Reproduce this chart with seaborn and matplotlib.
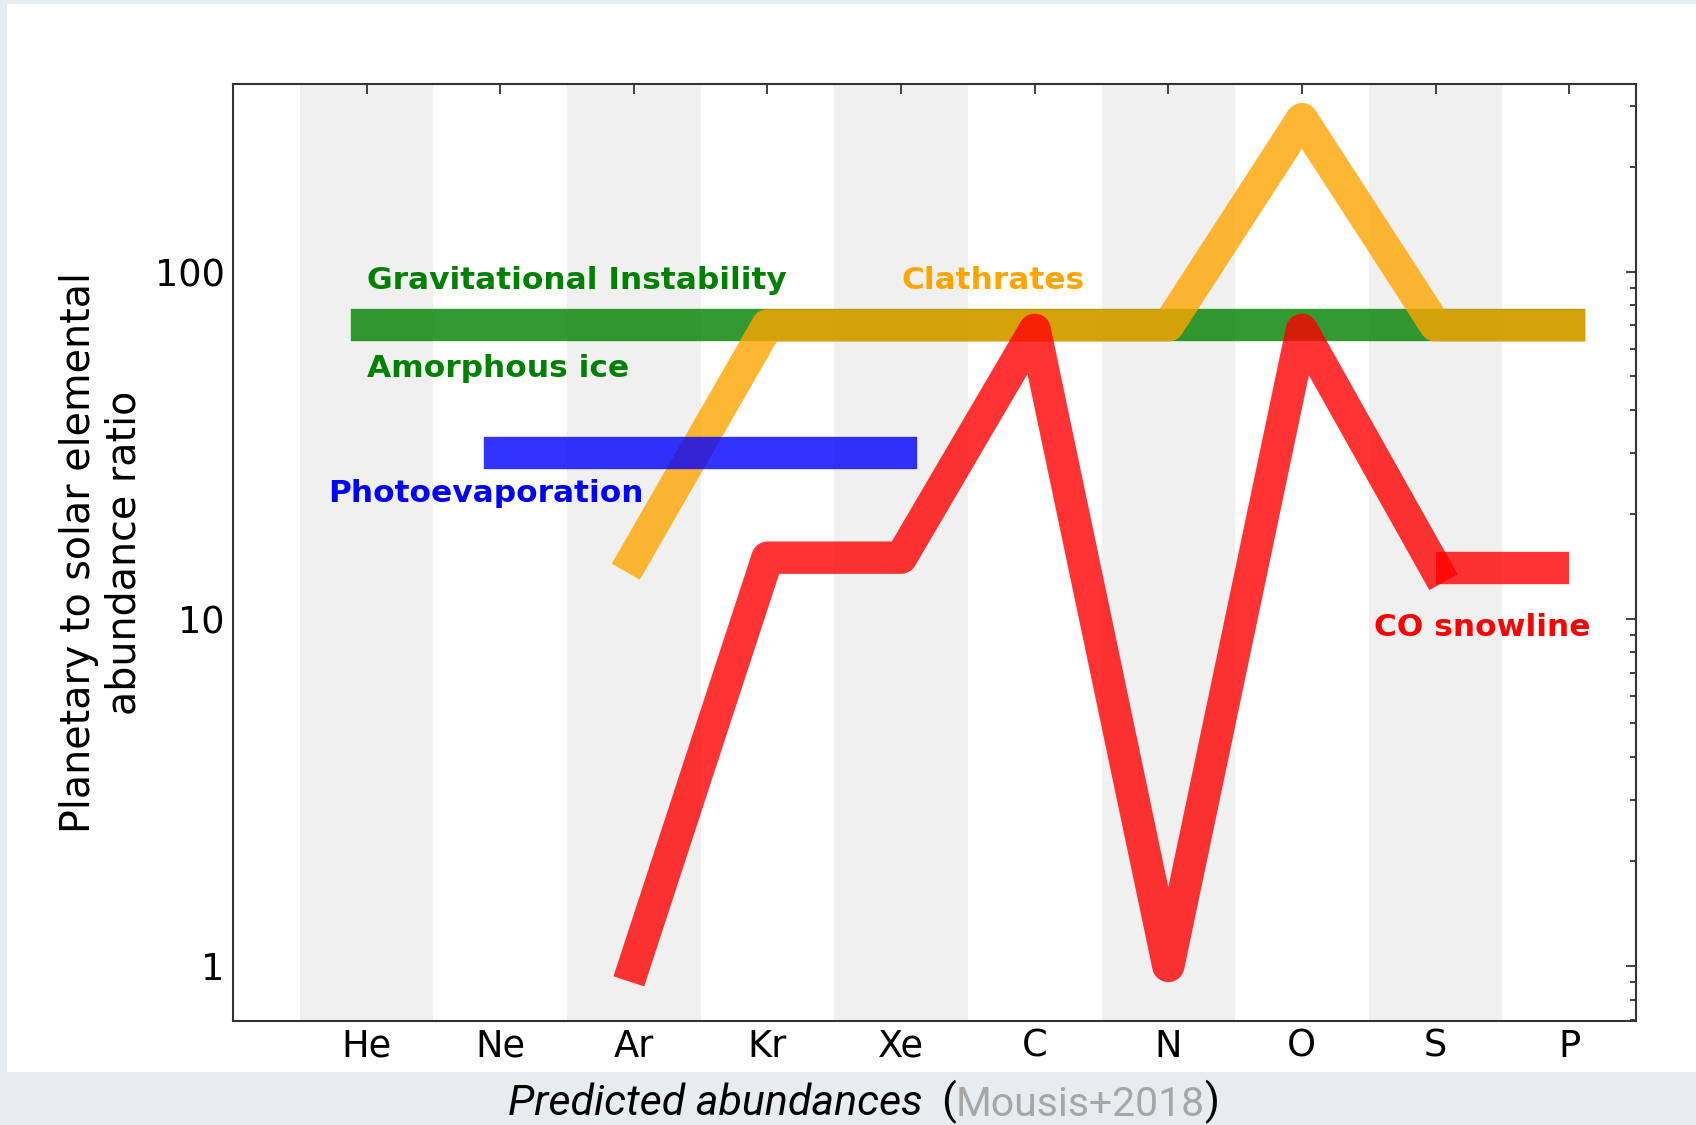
import numpy as np
import pandas as pd
import matplotlib
matplotlib.use('Agg')
import matplotlib.pyplot as plt
from matplotlib.patches import Rectangle
from matplotlib.ticker import FixedLocator, LogLocator, NullFormatter
import seaborn as sns

# Elements on the x axis
elements = ['He', 'Ne', 'Ar', 'Kr', 'Xe', 'C', 'N', 'O', 'S', 'P']

# Predicted enrichments (planetary / solar)
grav_elems = ['He', 'P']
grav_vals = [70, 70]

photo_elems = ['Ne', 'Xe']
photo_vals = [30, 30]

clath_elems = ['Ar', 'Kr', 'Xe', 'C', 'N', 'O', 'S', 'P']
clath_vals = [15, 70, 70, 70, 70, 275, 70, 70]

co_elems = ['Ar', 'Kr', 'Xe', 'C', 'N', 'O', 'S']
co_vals = [1, 15, 15, 68, 1, 68, 14]

co_tail_elems = ['S', 'P']
co_tail_vals = [14, 14]

sns.set_theme(style='white')
plt.rcParams['font.family'] = ['DejaVu Sans']

fig = plt.figure(figsize=(16.96, 11.25), dpi=100)
fig.patch.set_facecolor('#E9ECEF')
fig.add_artist(Rectangle((7 / 1696, 1 - 1072 / 1125), 1 - 7 / 1696, (1072 - 4) / 1125,
                         transform=fig.transFigure, facecolor='white',
                         edgecolor='none', zorder=-1))

ax = fig.add_axes([0.1374, 0.0924, 0.9646 - 0.1374, 0.9253 - 0.0924])
ax.set_facecolor('white')

# alternating shaded columns
for i in range(0, len(elements), 2):
    ax.axvspan(i - 0.5, i + 0.5, color='#F0F0F0', lw=0, zorder=0)

idx = {e: i for i, e in enumerate(elements)}
lw = 23.3


def band(elems, vals, color, cap='projecting'):
    df = pd.DataFrame({'x': [idx[e] for e in elems], 'y': vals})
    sns.lineplot(data=df, x='x', y='y', ax=ax, color=color, alpha=0.8,
                 linewidth=lw, solid_capstyle=cap, solid_joinstyle='round',
                 sort=False, estimator=None, zorder=2)


band(grav_elems, grav_vals, 'green')
band(clath_elems, clath_vals, 'orange')
band(photo_elems, photo_vals, 'blue')
band(co_elems, co_vals, 'red')
band(co_tail_elems, co_tail_vals, 'red', cap='butt')

tkw = dict(fontsize=22.5, fontweight='bold', ha='left', va='center', zorder=3)
ax.text(0, 94, 'Gravitational Instability', color='green', **tkw)
ax.text(0, 52.5, 'Amorphous ice', color='green', **tkw)
ax.text(-0.29, 23, 'Photoevaporation', color='blue', **tkw)
ax.text(4, 94, 'Clathrates', color='orange', **tkw)
ax.text(7.54, 9.45, 'CO snowline', color='red', **tkw)

ax.set_yscale('log')
ax.set_xlim(-1, 9.5)
ax.set_ylim(0.694, 347)
ax.set_xticks(range(len(elements)))
ax.set_xticklabels(elements)
ax.yaxis.set_major_locator(FixedLocator([1, 10, 100]))
ax.set_yticklabels(['1', '10', '100'])
ax.yaxis.set_minor_locator(LogLocator(base=10, subs=np.arange(2, 10)))
ax.yaxis.set_minor_formatter(NullFormatter())

ax.set_xlabel('')
ax.set_ylabel('Planetary to solar elemental\nabundance ratio', fontsize=28.5,
              color='black', labelpad=7)

for s in ax.spines.values():
    s.set_visible(True)
    s.set_color('#333333')
    s.set_linewidth(1.5)
ax.tick_params(which='both', direction='in', top=True, right=True,
               color='#333333', width=1.3, labelcolor='black')
ax.tick_params(which='major', length=7, labelsize=26.5)
ax.tick_params(axis='x', which='major', pad=5)
ax.tick_params(axis='y', which='major', pad=6)
ax.tick_params(which='minor', length=4.5)
ax.grid(False)

# caption below the panel
fam = ['Roboto', 'DejaVu Sans']
t1 = fig.text(508 / 1696, 1 - 1115 / 1125, 'Predicted abundances', style='italic',
              color='black', ha='left', va='baseline', fontsize=31, family=fam)
a1 = ax.annotate('(', xy=(1, 0), xycoords=t1, xytext=(13, 0), textcoords='offset points',
                 ha='left', va='bottom', color='black', annotation_clip=False,
                 fontsize=31, family=fam)
a2 = ax.annotate('Mousis+2018', xy=(1, 0), xycoords=a1, ha='left', va='bottom',
                 color='#A6A6A6', annotation_clip=False, fontsize=29.5, family=fam)
a3 = ax.annotate(')', xy=(1, 0), xycoords=a2, ha='left', va='bottom',
                 color='black', annotation_clip=False, fontsize=31, family=fam)

fig.savefig('out.png', dpi=100, facecolor=fig.get_facecolor())
